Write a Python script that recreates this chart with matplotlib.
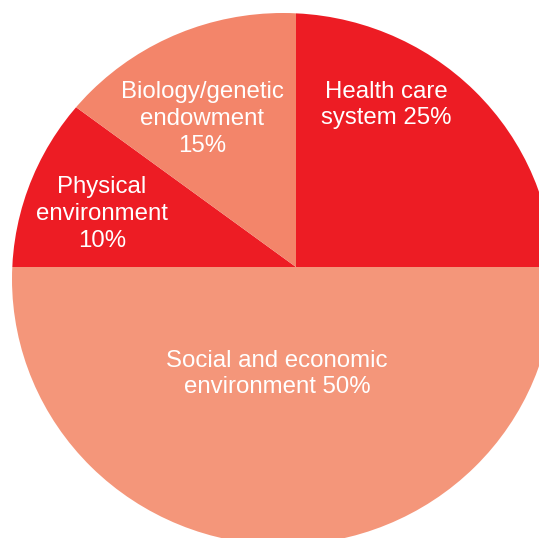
import matplotlib
matplotlib.use("Agg")
import matplotlib.pyplot as plt
from matplotlib.patches import Ellipse

# Determinants of health, share of influence (%)
categories = ["Health care\nsystem", "Social and economic\nenvironment",
              "Physical\nenvironment", "Biology/genetic\nendowment"]
shares = [25, 50, 10, 15]
label_texts = ["Health care\nsystem 25%", "Social and economic\nenvironment 50%",
               "Physical\nenvironment\n10%", "Biology/genetic\nendowment\n15%"]
colors = ["#ED1C24", "#F4967A", "#ED1C24", "#F3856A"]

W, H = 539, 538
fig = plt.figure(figsize=(W / 100, H / 100), dpi=100)
ax = fig.add_axes([0, 0, 1, 1])

# wedges radiate from the divider point; the outline is an ellipse
hub = (296, H - 267)
wedges, _ = ax.pie(shares, colors=colors, startangle=90, counterclock=False,
                   center=hub, radius=420, frame=True,
                   wedgeprops=dict(linewidth=0, antialiased=True))

ax.set_xlim(0, W)
ax.set_ylim(0, H)
ax.set_aspect("auto")
ax.axis("off")

outline = Ellipse((283, H - 279), width=542, height=532)
clip_path = outline.get_path()
clip_tf = outline.get_patch_transform() + ax.transData
for w in wedges:
    w.set_clip_on(True)
    w.set_clip_path(clip_path, clip_tf)

# label anchor points (pixel space, y measured from the top)
anchors = [(386, 105), (277, 374), (102, 214), (202, 119)]
for txt, (x, y) in zip(label_texts, anchors):
    ax.text(x, H - y, txt, ha="center", va="center", color="white",
            fontsize=17.3, family=["Liberation Sans", "DejaVu Sans"],
            linespacing=1.27)

fig.savefig("out.png", dpi=100)
